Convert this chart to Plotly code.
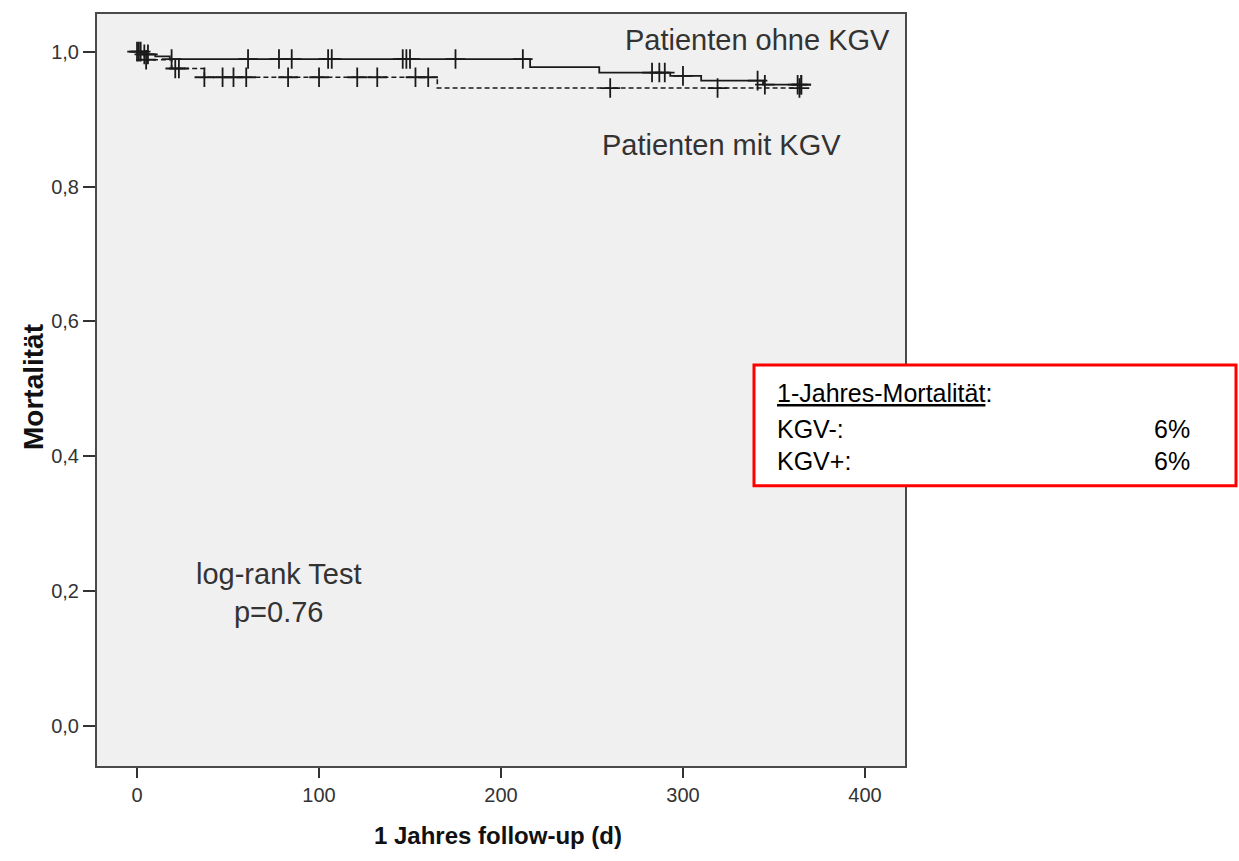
import numpy as np
import plotly.graph_objects as go

# ---- data ----
ohne_times = [0, 3, 10, 18, 216, 254, 293, 310, 344, 365]
ohne_surv = [1.0, 0.996, 0.993, 0.989, 0.977, 0.969, 0.964, 0.957, 0.951, 0.951]
ohne_censored = [0, 2, 4, 6, 19, 61, 78, 85, 105, 107, 146, 148, 150, 175, 212,
                 283, 287, 290, 300, 341, 345, 363, 365, 365]

mit_times = [0, 4, 19, 37, 165, 365]
mit_surv = [1.0, 0.988, 0.975, 0.962, 0.946, 0.946]
mit_censored = [1, 5, 21, 23, 37, 47, 53, 60, 83, 100, 121, 132, 153, 160,
                260, 319, 364]

x_ticks = [0, 100, 200, 300, 400]
y_ticks = [0.0, 0.2, 0.4, 0.6, 0.8, 1.0]

box_title = "1-Jahres-Mortalität"
box_rows = ["KGV-:", "KGV+:"]
box_values = ["6%", "6%"]


def step_at(times, surv, t):
    idx = np.searchsorted(np.array(times), np.array(t), side="right") - 1
    return np.array(surv)[idx]


W, H = 1239, 861
L, R, T, B = 97, 905, 12, 766


def px(x):
    return (x - L) / (R - L)


def py(y):
    return (B - y) / (B - T)


LINE = "#1a1a1a"
fig = go.Figure()

fig.add_trace(go.Scatter(x=ohne_times, y=ohne_surv, mode="lines", line_shape="hv",
                         line=dict(color=LINE, width=1.8), showlegend=False))
fig.add_trace(go.Scatter(x=mit_times, y=mit_surv, mode="lines", line_shape="hv",
                         line=dict(color=LINE, width=1.6, dash="5px,3px"), showlegend=False))
fig.add_trace(go.Scatter(x=ohne_censored, y=step_at(ohne_times, ohne_surv, ohne_censored),
                         mode="markers",
                         marker=dict(symbol="cross-thin", size=14, line=dict(color=LINE, width=1.8)),
                         showlegend=False))
fig.add_trace(go.Scatter(x=mit_censored, y=step_at(mit_times, mit_surv, mit_censored),
                         mode="markers",
                         marker=dict(symbol="cross-thin", size=14, line=dict(color=LINE, width=1.8)),
                         showlegend=False))

FONT = "Liberation Sans, Arial, sans-serif"
TXT = "#333333"

annotations = [
    dict(x=415, y=1.017, xref="x", yref="y", text="Patienten ohne KGV", showarrow=False,
         xanchor="right", yanchor="middle", font=dict(family=FONT, size=29, color=TXT)),
    dict(x=388, y=0.861, xref="x", yref="y", text="Patienten mit KGV", showarrow=False,
         xanchor="right", yanchor="middle", font=dict(family=FONT, size=29, color=TXT)),
    dict(x=78.0, y=0.197, xref="x", yref="y", text="log-rank Test<br>p=0.76", showarrow=False,
         xanchor="center", yanchor="middle", align="center",
         font=dict(family=FONT, size=29, color=TXT)),
    dict(x=px(33), y=py(386), xref="paper", yref="paper", text="<b>Mortalität</b>",
         textangle=-90, showarrow=False, xanchor="center", yanchor="middle",
         font=dict(family=FONT, size=28, color="#111")),
    dict(x=px(498), y=py(836), xref="paper", yref="paper", text="<b>1 Jahres follow-up (d)</b>",
         showarrow=False, xanchor="center", yanchor="middle",
         font=dict(family=FONT, size=24, color="#111")),
    dict(x=px(775), y=py(392), xref="paper", yref="paper",
         text="<u>" + box_title + "</u>:", showarrow=False, xanchor="left", yanchor="middle",
         font=dict(family=FONT, size=25, color="#000")),
]
for i, (lab, val) in enumerate(zip(box_rows, box_values)):
    yy = [428, 460][i]
    annotations.append(dict(x=px(775), y=py(yy), xref="paper", yref="paper", text=lab,
                            showarrow=False, xanchor="left", yanchor="middle",
                            font=dict(family=FONT, size=25, color="#000")))
    annotations.append(dict(x=px(1192), y=py(yy), xref="paper", yref="paper", text=val,
                            showarrow=False, xanchor="right", yanchor="middle",
                            font=dict(family=FONT, size=25, color="#000")))

shapes = [dict(type="rect", xref="paper", yref="paper", x0=px(754), x1=px(1236),
               y0=py(485), y1=py(364), line=dict(color="#ff0000", width=3),
               fillcolor="white", layer="above")]

fig.update_layout(
    width=W, height=H,
    margin=dict(l=L, r=W - R, t=T, b=H - B),
    paper_bgcolor="white", plot_bgcolor="#f0f0f0",
    separators=", ",
    font=dict(family=FONT, color="#222"),
    annotations=annotations, shapes=shapes,
    xaxis=dict(range=[-22, 422], tickvals=x_ticks, ticks="outside", ticklen=10, tickwidth=2,
               tickcolor="#333", showgrid=False, zeroline=False, showline=True, mirror=True,
               linecolor="#4a4a4a", linewidth=2, tickfont=dict(size=20, color="#333")),
    yaxis=dict(range=[-0.0592, 1.0558], tickvals=y_ticks, tickformat=".1f", ticks="outside",
               ticklen=12, tickwidth=2, tickcolor="#333", showgrid=False, zeroline=False,
               showline=True, mirror=True, linecolor="#4a4a4a", linewidth=2,
               tickfont=dict(size=20, color="#333")),
)

fig.write_html("out.html")
